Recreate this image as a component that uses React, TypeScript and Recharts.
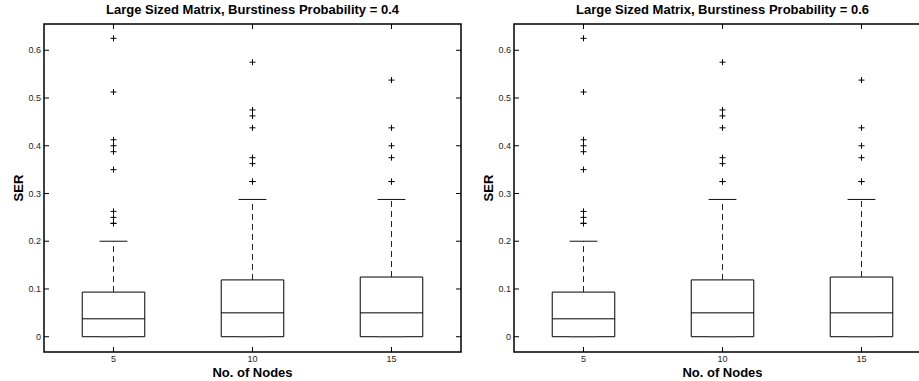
import React from 'react';
import {
  ComposedChart,
  XAxis,
  YAxis,
  Scatter,
  ReferenceArea,
  ReferenceLine,
} from 'recharts';

// number of nodes (x groups), placed at 1, 2, 3 like a matlab boxplot
const nodes = ['5', '10', '15'];
const positions = [1, 2, 3];

// box statistics, SER (both panels show the same values)
const q1 = [0, 0, 0];
const median = [0.0375, 0.05, 0.05];
const q3 = [0.0935, 0.119, 0.125];
const whiskerLow = [0, 0, 0];
const whiskerHigh = [0.2, 0.2875, 0.2875];

const outliers5 = [0.625, 0.5125, 0.4125, 0.4, 0.3875, 0.35, 0.2625, 0.25, 0.2375, 0.2375];
const outliers10 = [0.575, 0.475, 0.4625, 0.4375, 0.375, 0.3625, 0.325, 0.325];
const outliers15 = [0.5375, 0.4375, 0.4, 0.375, 0.325, 0.325];

const yTicks = [0, 0.1, 0.2, 0.3, 0.4, 0.5, 0.6];
const titles = [
  'Large Sized Matrix, Burstiness Probability = 0.4',
  'Large Sized Matrix, Burstiness Probability = 0.6',
];

const X_DOMAIN: [number, number] = [0.5, 3.5];
const Y_DOMAIN: [number, number] = [-0.032, 0.655];
const CHART_W = 470;
const CHART_H = 381;
const MARGIN = { top: 24, right: 9, bottom: 0, left: 4 };
const Y_AXIS_W = 40;
const PLOT_LEFT = MARGIN.left + Y_AXIS_W;
const PLOT_RIGHT = CHART_W - MARGIN.right;
const FONT = '"Liberation Sans", Arial, Helvetica, sans-serif';
const BOX_HALF = 0.225;
const CAP_HALF = 0.1;
const TICK_LEN = 5;
const X_TICK_GAP = 4;
const Y_TICK_GAP = 3;
const labelStyle = { fontSize: 13, fontWeight: 'bold', fill: '#000', fontFamily: FONT };

const outlierPoints = [outliers5, outliers10, outliers15].flatMap((list, i) =>
  list.map((y) => ({ x: positions[i], y }))
);

const Plus = (props: any) => {
  const { cx, cy } = props;
  if (cx == null || cy == null) return null;
  return (
    <g stroke="#000" strokeWidth={1}>
      <line x1={cx - 3} y1={cy} x2={cx + 3} y2={cy} />
      <line x1={cx} y1={cy - 3} x2={cx} y2={cy + 3} />
    </g>
  );
};

// x tick: label under the box plus inward marks on bottom and top edges
const XTick = (props: any) => {
  const { x, y, payload } = props;
  const bottom = y - X_TICK_GAP;
  const label = nodes[positions.indexOf(payload.value)] ?? '';
  return (
    <g>
      <line x1={x} y1={bottom} x2={x} y2={bottom - TICK_LEN} stroke="#000" />
      <line x1={x} y1={MARGIN.top} x2={x} y2={MARGIN.top + TICK_LEN} stroke="#000" />
      <text x={x} y={y} dy="0.71em" textAnchor="middle" fontSize={9} fill="#262626" fontFamily={FONT}>
        {label}
      </text>
    </g>
  );
};

// y tick: label left of the axis plus inward marks on left and right edges
const YTick = (props: any) => {
  const { x, y, payload } = props;
  return (
    <g>
      <line x1={PLOT_LEFT} y1={y} x2={PLOT_LEFT + TICK_LEN} y2={y} stroke="#000" />
      <line x1={PLOT_RIGHT} y1={y} x2={PLOT_RIGHT - TICK_LEN} y2={y} stroke="#000" />
      <text x={x} y={y} dy="0.35em" textAnchor="end" fontSize={9} fill="#262626" fontFamily={FONT}>
        {payload.value}
      </text>
    </g>
  );
};

function BoxPanel({ title, left }: { title: string; left: number }) {
  return (
    <div style={{ position: 'absolute', left, top: 0, width: CHART_W, height: CHART_H }}>
      <div
        style={{
          position: 'absolute',
          left: PLOT_LEFT - 40,
          width: PLOT_RIGHT - PLOT_LEFT + 80,
          top: 2,
          textAlign: 'center',
          fontFamily: FONT,
          fontWeight: 'bold',
          fontSize: 13,
          lineHeight: '15px',
          color: '#000',
          whiteSpace: 'nowrap',
        }}
      >
        {title}
      </div>
      <ComposedChart width={CHART_W} height={CHART_H} data={outlierPoints} margin={MARGIN}>
        <XAxis
          xAxisId="x"
          dataKey="x"
          type="number"
          domain={X_DOMAIN}
          ticks={positions}
          allowDataOverflow
          height={29}
          tickSize={0}
          tickLine={false}
          tickMargin={X_TICK_GAP}
          axisLine={false}
          tick={<XTick />}
          label={{ value: 'No. of Nodes', position: 'insideBottom', offset: 4, style: labelStyle }}
        />
        <YAxis
          yAxisId="y"
          dataKey="y"
          type="number"
          domain={Y_DOMAIN}
          ticks={yTicks}
          allowDataOverflow
          width={Y_AXIS_W}
          tickSize={0}
          tickLine={false}
          tickMargin={Y_TICK_GAP}
          axisLine={false}
          tick={<YTick />}
          label={{ value: 'SER', angle: -90, position: 'center', dx: -6, style: labelStyle }}
        />

        {/* axes box */}
        <ReferenceArea
          xAxisId="x"
          yAxisId="y"
          x1={X_DOMAIN[0]}
          x2={X_DOMAIN[1]}
          y1={Y_DOMAIN[0]}
          y2={Y_DOMAIN[1]}
          stroke="#000"
          strokeWidth={1.5}
          fill="none"
          fillOpacity={0}
          ifOverflow="visible"
        />

        {positions.map((p, i) => (
          <React.Fragment key={nodes[i]}>
            {/* upper and lower whiskers */}
            <ReferenceLine
              xAxisId="x"
              yAxisId="y"
              segment={[{ x: p, y: q3[i] }, { x: p, y: whiskerHigh[i] }]}
              stroke="#222"
              strokeWidth={1}
              strokeDasharray="6 4"
            />
            <ReferenceLine
              xAxisId="x"
              yAxisId="y"
              segment={[{ x: p, y: whiskerLow[i] }, { x: p, y: q1[i] }]}
              stroke="#222"
              strokeWidth={1}
              strokeDasharray="6 4"
            />
            <ReferenceLine
              xAxisId="x"
              yAxisId="y"
              segment={[{ x: p - CAP_HALF, y: whiskerHigh[i] }, { x: p + CAP_HALF, y: whiskerHigh[i] }]}
              stroke="#111"
              strokeWidth={1}
            />
            <ReferenceArea
              xAxisId="x"
              yAxisId="y"
              x1={p - BOX_HALF}
              x2={p + BOX_HALF}
              y1={q1[i]}
              y2={q3[i]}
              stroke="#000"
              strokeWidth={1}
              fill="none"
              fillOpacity={0}
              ifOverflow="visible"
            />
            <ReferenceLine
              xAxisId="x"
              yAxisId="y"
              segment={[{ x: p - BOX_HALF, y: median[i] }, { x: p + BOX_HALF, y: median[i] }]}
              stroke="#000"
              strokeWidth={1}
            />
            <ReferenceLine
              xAxisId="x"
              yAxisId="y"
              segment={[{ x: p - CAP_HALF, y: whiskerLow[i] }, { x: p + CAP_HALF, y: whiskerLow[i] }]}
              stroke="#555"
              strokeWidth={1}
            />
          </React.Fragment>
        ))}

        <Scatter
          xAxisId="x"
          yAxisId="y"
          data={outlierPoints}
          dataKey="y"
          shape={<Plus />}
          isAnimationActive={false}
        />
      </ComposedChart>
    </div>
  );
}

export default function App() {
  return (
    <div
      style={{
        position: 'absolute',
        left: 0,
        top: 0,
        width: 919,
        height: 381,
        overflow: 'hidden',
        background: '#fff',
      }}
    >
      <BoxPanel title={titles[0]} left={0} />
      <BoxPanel title={titles[1]} left={470} />
    </div>
  );
}
